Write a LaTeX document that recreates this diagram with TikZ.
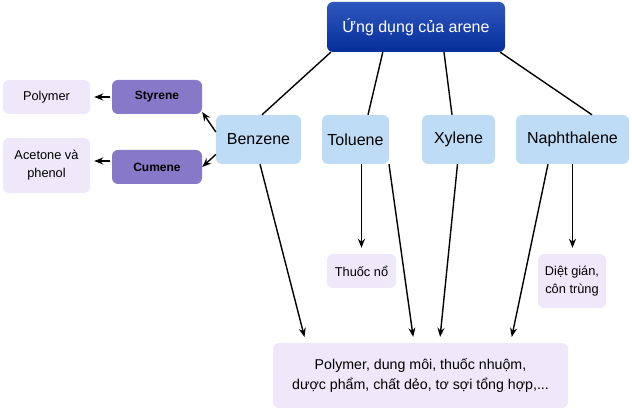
\documentclass[tikz,border=0pt]{standalone}
\usepackage{fontspec}
\setmainfont{Liberation Sans}
\usetikzlibrary{arrows.meta}
\definecolor{topblue}{HTML}{0A3AB2}
\definecolor{topbluedark}{HTML}{062E9A}
\definecolor{lightblue}{HTML}{BFDCF7}
\definecolor{purplebox}{HTML}{8878C8}
\definecolor{lavender}{HTML}{EEE8FA}
\tikzset{
  base/.style={rounded corners=6pt, inner sep=0pt, align=center},
  topbox/.style={base, top color=topblue!85!white, bottom color=topbluedark, text=white, font=\fontsize{16}{18}\selectfont},
  mainbox/.style={base, fill=lightblue, minimum height=49pt, font=\fontsize{16}{18}\selectfont},
  subbox/.style={base, fill=purplebox, minimum width=90pt, minimum height=34pt, font=\bfseries\fontsize{12}{14}\selectfont},
  leafbox/.style={base, fill=lavender, font=\fontsize{12.8}{18}\selectfont},
  link/.style={line width=1.4pt},
  arr/.style={line width=1.4pt, -{Stealth[length=9pt,width=7pt]}}
}
\begin{document}
\begin{tikzpicture}[x=1pt,y=-1pt]
\useasboundingbox (0,0) rectangle (632,411);
% nodes
\node[topbox, minimum width=178pt, minimum height=50pt] (top) at (416,27) {Ứng dụng của arene};
\node[mainbox, minimum width=85pt] (benz) at (258.5,139.5) {Benzene};
\node[mainbox, minimum width=67pt] (tol) at (355.5,139.5) {Toluene};
\node[mainbox, minimum width=73pt] (xyl) at (458.5,139.5) {Xylene};
\node[mainbox, minimum width=113pt] (naph) at (572.5,139.5) {Naphthalene};
\node[subbox] (sty) at (157,97) {Styrene};
\node[subbox] (cum) at (157,167) {Cumene};
\node[leafbox, minimum width=87pt, minimum height=34pt] (poly) at (46.5,97) {Polymer};
\node[leafbox, minimum width=87pt, minimum height=55pt] (acet) at (46.5,165.5) {Acetone và\\phenol};
\node[leafbox, minimum width=69pt, minimum height=34pt] (tno) at (361.5,271) {Thuốc nổ};
\node[leafbox, minimum width=68pt, minimum height=54pt] (diet) at (572,281) {Diệt gián,\\côn trùng};
\node[leafbox, minimum width=295pt, minimum height=65pt, font=\fontsize{14.2}{19.5}\selectfont] (bot) at (420.5,375.5) {Polymer, dung môi, thuốc nhuộm,\\dược phẩm, chất dẻo, tơ sợi tổng hợp,...};
% top links
\draw[link] ([xshift=4pt]top.south west) -- ([xshift=3.5pt]benz.north);
\draw[link] ([xshift=56pt]top.south west) -- ([xshift=12.5pt]tol.north);
\draw[link] ([xshift=28pt]top.south) -- ([xshift=-6.5pt]xyl.north);
\draw[link] ([xshift=-5pt]top.south east) -- ([xshift=19.5pt]naph.north);
% benzene branches
\draw[arr] ([yshift=7.5pt]benz.west) -- ([yshift=-15pt]sty.east);
\draw[arr] ([yshift=-15pt]benz.west) -- (cum.east);
\draw[arr, shorten >=4pt, shorten <=2pt] (sty.west) -- (sty.west -| poly.east);
\draw[arr, shorten >=4pt, shorten <=2pt] ([yshift=6pt]cum.west) -- ([yshift=6pt]cum.west -| acet.east);
% down arrows
\draw[arr, shorten >=6pt] ([xshift=6pt]tol.south) -- ([xshift=6pt]tol.south |- tno.north);
\draw[arr, shorten >=6pt] (naph.south) -- (naph.south |- diet.north);
\draw[arr, shorten >=6pt] ([xshift=1.5pt]benz.south) -- ([xshift=-114.5pt]bot.north);
\draw[arr, shorten >=6pt] ([xshift=33.5pt]tol.south) -- ([xshift=-6.5pt]bot.north);
\draw[arr, shorten >=6pt] ([xshift=-1pt]xyl.south) -- ([xshift=19pt]bot.north);
\draw[arr, shorten >=6pt] ([xshift=-24.5pt]naph.south) -- ([xshift=90pt]bot.north);
\end{tikzpicture}
\end{document}
